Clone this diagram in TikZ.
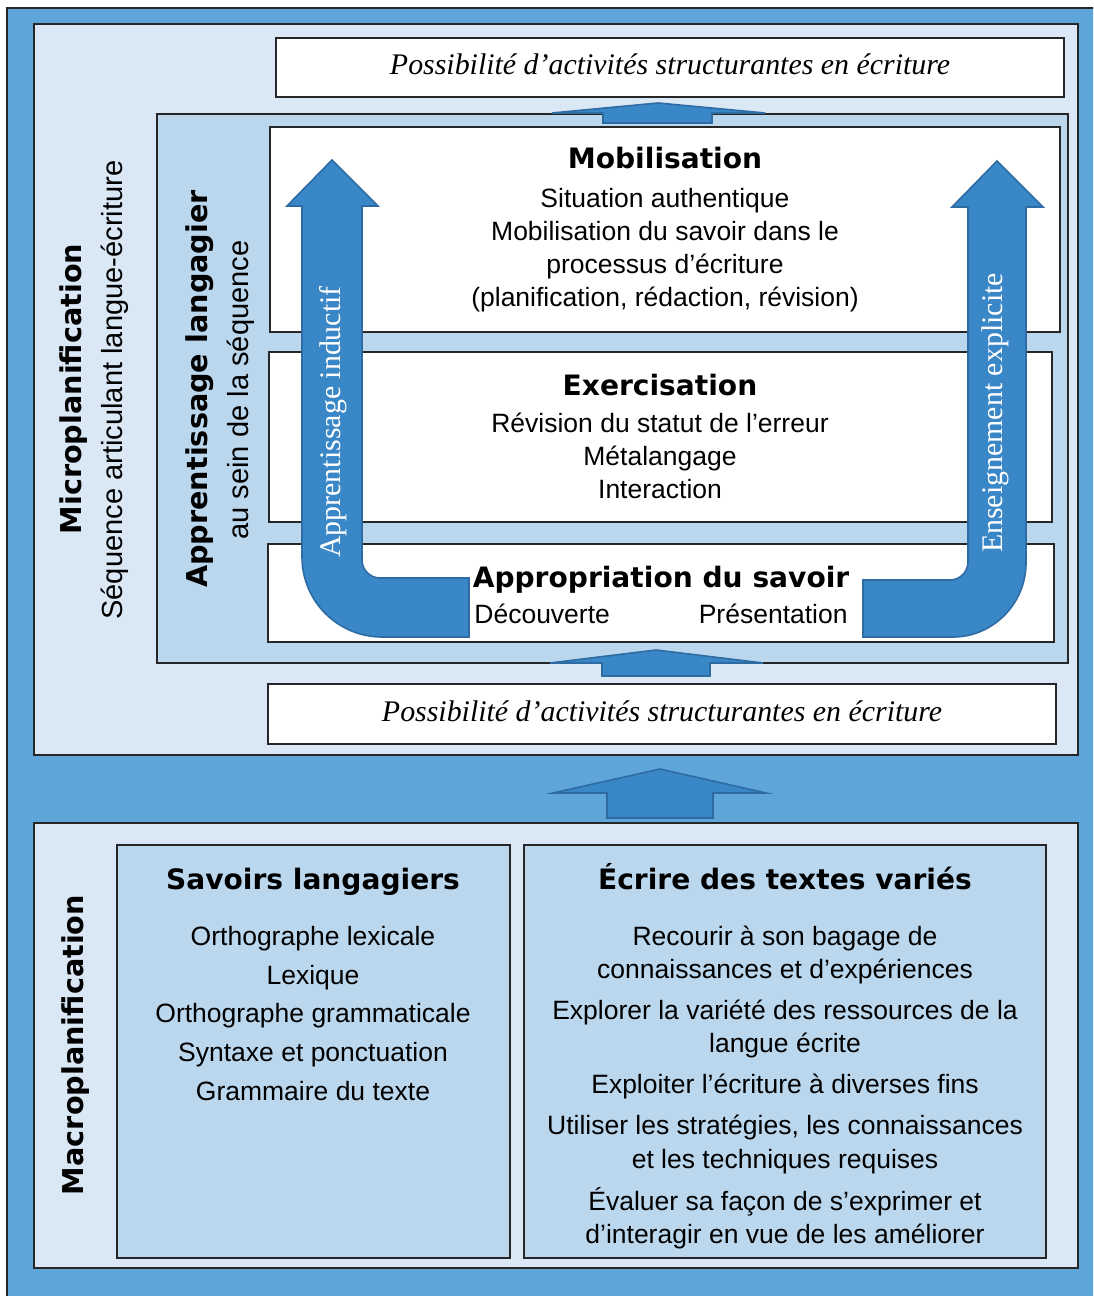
\documentclass[tikz,border=0pt]{standalone}
\usepackage{fontspec}
\setmainfont{Liberation Sans}
\newfontfamily\heavyfont{DejaVu Sans}
\newfontfamily\romanfont{Liberation Serif}
\definecolor{midblue}{RGB}{94,166,218}
\definecolor{paleblue}{RGB}{218,232,246}
\definecolor{lightblue}{RGB}{186,215,238}
\definecolor{arrowblue}{RGB}{58,135,199}
\definecolor{arrowline}{RGB}{46,107,163}
\begin{document}
\begin{tikzpicture}[x=0.5bp,y=-0.5bp,line join=miter,
    box/.style={draw=black!85,line width=0.75bp},
    blockarrow/.style={fill=arrowblue,draw=arrowline,line width=0.8bp},
    heading/.style={font=\heavyfont\bfseries\fontsize{14.1}{16}\selectfont,inner sep=0pt},
    sideheading/.style={font=\heavyfont\bfseries\fontsize{14.4}{16}\selectfont,inner sep=0pt,rotate=90},
    sidebody/.style={font=\fontsize{14.6}{17}\selectfont,inner sep=0pt,rotate=90},
    body/.style={font=\fontsize{13.3}{16.6}\selectfont,align=center,inner sep=0pt},
    listing/.style={font=\fontsize{13.3}{19.4}\selectfont,align=center,inner sep=0pt},
    possible/.style={font=\romanfont\itshape\fontsize{15}{18}\selectfont,inner sep=0pt},
    arrowlabel/.style={font=\romanfont\fontsize{15}{18}\selectfont,text=white,rotate=90,inner sep=0pt},
    ]
    %%
    \useasboundingbox (0,0) rectangle (1093,1296);
    \begin{scope}
      \clip (0,0) rectangle (1093,1296);
      \draw[box,fill=midblue] (7,8) rectangle (1120,1320);
    \end{scope}
    % panels
    \draw[box,fill=paleblue] (34,24) rectangle (1078,755);
    \draw[box,fill=paleblue] (34,823) rectangle (1078,1268);
    \draw[blockarrow] (660,769) -- (766,793) -- (713,793) -- (713,818) -- (607,818) -- (607,793) -- (553,793) -- cycle;
    \draw[box,fill=white] (276,38) rectangle (1064,97);
    \draw[box,fill=white] (268,684) rectangle (1056,744);
    \draw[box,fill=lightblue] (157,114) rectangle (1068,663);
    \draw[blockarrow] (658,103) -- (765,113) -- (712,113) -- (712,123) -- (603,123) -- (603,113) -- (552,113) -- cycle;
    \draw[blockarrow] (656,650) -- (763,663) -- (710,663) -- (710,676) -- (602,676) -- (602,663) -- (550,663) -- cycle;
    \draw[box,fill=white] (270,127) rectangle (1060,332);
    \draw[box,fill=white] (269,352) rectangle (1052,522);
    \draw[box,fill=white] (268,544) rectangle (1054,642);
    % bent arrows
    \draw[blockarrow] (332,160) -- (378,206) -- (362,206) -- (362,560)
        .. controls (362,569.9) and (370.1,578) .. (380,578) -- (469,578) -- (469,637) -- (382,637)
        .. controls (337.8,637) and (302,601.2) .. (302,557) -- (302,206) -- (287,206) -- cycle;
    \draw[blockarrow] (997,161) -- (1043,207) -- (1026,207) -- (1026,563)
        .. controls (1026,603.3) and (993.3,637) .. (953,637) -- (863,637) -- (863,580) -- (950,580)
        .. controls (959.9,580) and (968,571.9) .. (968,562) -- (968,207) -- (952,207) -- cycle;
    \draw[box,fill=lightblue] (117,845) rectangle (510,1258);
    \draw[box,fill=lightblue] (524,845) rectangle (1046,1258);
    %
    \node (micro) at (74,389) [sideheading] {Microplanification};
    \node (sequence) at (115,390) [sidebody] {Séquence articulant langue-écriture};
    \node (apprlang) at (200,389) [sideheading] {Apprentissage langagier};
    \node (ausein) at (241,390) [sidebody] {au sein de la séquence};
    \node (macro) at (76,1045) [sideheading] {Macroplanification};
    \node (possup) at (670,64) [possible] {Possibilité d’activités structurantes en écriture};
    \node (posslow) at (662,711) [possible] {Possibilité d’activités structurantes en écriture};
    \node (mobtitle) at (665,169) [heading,anchor=base] {Mobilisation};
    \node (moblines) at (665,250.5) [body] {Situation authentique\\Mobilisation du savoir dans le\\processus d’écriture\\(planification, rédaction, révision)};
    \node (exetitle) at (660,395) [heading,anchor=base] {Exercisation};
    \node (exelines) at (660,455.5) [body] {Révision du statut de l’erreur\\Métalangage\\Interaction};
    \node (apptitle) at (661,587) [heading,anchor=base] {Appropriation du savoir};
    \node (decouv) at (474,614) [body,anchor=west] {Découverte};
    \node (present) at (848,614) [body,anchor=east] {Présentation};
    \node (inductif) at (333,422) [arrowlabel] {Apprentissage inductif};
    \node (explicite) at (995,413) [arrowlabel] {Enseignement explicite};
    \node (savtitle) at (313,889) [heading,anchor=base] {Savoirs langagiers};
    \node (savlines) at (313,1013.5) [listing] {Orthographe lexicale\\Lexique\\Orthographe grammaticale\\Syntaxe et ponctuation\\Grammaire du texte};
    \node (ecrtitle) at (785,889) [heading,anchor=base] {Écrire des textes variés};
    \node (recourir) at (785,955) [body] {Recourir à son bagage de\\connaissances et d’expériences};
    \node (explorer) at (785,1029) [body] {Explorer la variété des ressources de la\\langue écrite};
    \node (exploiter) at (785,1086) [body] {Exploiter l’écriture à diverses fins};
    \node (utiliser) at (785,1144.5) [body] {Utiliser les stratégies, les connaissances\\et les techniques requises};
    \node (evaluer) at (785,1218) [body] {Évaluer sa façon de s’exprimer et\\d’interagir en vue de les améliorer};
    %
\end{tikzpicture}
\end{document}
